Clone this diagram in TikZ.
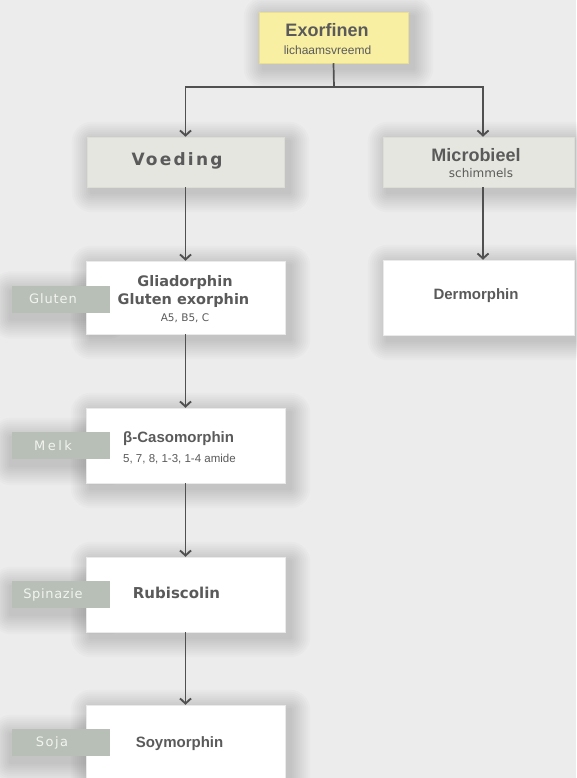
\documentclass[tikz,border=0pt]{standalone}
\usepackage{fontspec}
\setmainfont{Liberation Sans}
\newfontfamily\dvs{DejaVu Sans}
\usetikzlibrary{arrows.meta}
\definecolor{bgcol}{HTML}{ECECEC}
\definecolor{txt}{HTML}{5A5A5A}
\definecolor{hdrfill}{HTML}{E4E6DF}
\definecolor{hdredge}{HTML}{DCDED6}
\definecolor{yelfill}{HTML}{F8EFA2}
\definecolor{yeledge}{HTML}{EADF90}
\definecolor{tagfill}{HTML}{B8BFB6}
\definecolor{tagtxt}{HTML}{F2F4F0}
\definecolor{linecol}{HTML}{505050}
\definecolor{cardedge}{HTML}{EAEAEA}
\pgfdeclarelayer{bg}
\pgfsetlayers{bg,main}
\newcommand\mkshadow[3]{% node, dx, dy (pt, dy positive = down)
  \begin{pgfonlayer}{bg}
  \foreach \r in {20,18,...,2}{
    \fill[black, opacity=0.017, rounded corners=\r pt]
      ([xshift=#2pt-\r pt, yshift=-#3pt+\r pt]#1.north west) rectangle
      ([xshift=#2pt+\r pt, yshift=-#3pt-\r pt]#1.south east);
  }
  \end{pgfonlayer}}
\begin{document}
\begin{tikzpicture}[x=1pt,y=-1pt,
  card/.style={rectangle, inner sep=0pt, fill=white, draw=cardedge, line width=0.5pt},
  hdr/.style={card, fill=hdrfill, draw=hdredge},
  tagbox/.style={rectangle, inner sep=0pt, fill=tagfill, minimum width=98pt, minimum height=27pt},
  tagtext/.style={inner sep=0pt, text=tagtxt, font=\dvs\fontsize{13}{15}\selectfont},
  lbl/.style={inner sep=0pt, text=txt},
  conn/.style={draw=linecol, line width=1.7pt},
  arr/.style={conn, -{Straight Barb[length=5pt,width=11pt,line width=1.9pt]}}
]
\useasboundingbox (0,0) rectangle (576,778);
\begin{pgfonlayer}{bg}
\fill[bgcol] (0,0) rectangle (576,778);
\end{pgfonlayer}

% boxes
\node[card, fill=yelfill, draw=yeledge, minimum width=149pt, minimum height=51pt] (exo) at (333.5,37.5) {};
\node[hdr, minimum width=197pt, minimum height=50pt] (voe) at (185.5,162) {};
\node[hdr, minimum width=191pt, minimum height=50pt] (mic) at (478.5,162) {};
\node[card, minimum width=199pt, minimum height=73pt] (glu) at (185.5,297.5) {};
\node[card, minimum width=199pt, minimum height=75pt] (mel) at (185.5,445.5) {};
\node[card, minimum width=199pt, minimum height=75pt] (rub) at (185.5,594.5) {};
\node[card, minimum width=199pt, minimum height=75pt] (soy) at (185.5,742.5) {};
\node[card, minimum width=191pt, minimum height=75pt] (der) at (478.5,297.5) {};
\foreach \b in {exo,voe,mic,glu,mel,rub,soy,der}{\mkshadow{\b}{5}{5}}

% tags
\node[tagbox] (tglu) at (61,299) {};
\node[tagbox] (tmel) at (61,445.5) {};
\node[tagbox] (trub) at (61,594.5) {};
\node[tagbox] (tsoy) at (61,742.5) {};
\begin{scope}
\clip (0,0) rectangle (87,778);
\foreach \b in {tglu,tmel,trub,tsoy}{\mkshadow{\b}{-1}{6}}
\end{scope}
\node[tagtext] (xglu) at (53,299) {\addfontfeature{LetterSpace=7}Gluten};
\node[tagtext] (xmel) at (53,445.5) {\addfontfeature{LetterSpace=19}Melk};
\node[tagtext] (xrub) at (53,594.5) {\addfontfeature{LetterSpace=5}Spinazie};
\node[tagtext] (xsoy) at (52,742.5) {\addfontfeature{LetterSpace=11}Soja};

% texts
\node[lbl, font=\fontsize{18}{20}\selectfont\bfseries] (lexo) at (327,30) {Exorfinen};
\node[lbl, font=\fontsize{12}{14}\selectfont] (lexo2) at (327.5,50) {lichaamsvreemd};
\node[lbl, font=\dvs\fontsize{17}{20}\selectfont\bfseries\addfontfeature{LetterSpace=13}] (lvoe) at (177,161) {Voeding};
\node[lbl, font=\fontsize{18}{20}\selectfont\bfseries] (lmic) at (476,155) {Microbieel};
\node[lbl, font=\dvs\fontsize{12}{14}\selectfont] (lmic2) at (481,173) {schimmels};
\node[lbl, font=\dvs\fontsize{14.5}{17}\selectfont\bfseries] (lglu1) at (185,282) {Gliadorphin};
\node[lbl, font=\dvs\fontsize{14.5}{17}\selectfont\bfseries] (lglu2) at (183.5,300) {Gluten exorphin};
\node[lbl, font=\dvs\fontsize{10.5}{12}\selectfont] (lglu3) at (185,318) {A5, B5, C};
\node[lbl, anchor=west, font=\fontsize{15}{17}\selectfont\bfseries] (lmel1) at (123,439) {β-Casomorphin};
\node[lbl, anchor=west, font=\fontsize{11.5}{13}\selectfont] (lmel2) at (123,459) {5, 7, 8, 1-3, 1-4 amide};
\node[lbl, font=\dvs\fontsize{15}{17}\selectfont\bfseries] (lrub) at (176.5,593) {Rubiscolin};
\node[lbl, font=\fontsize{15}{17}\selectfont\bfseries] (lsoy) at (179.5,744) {Soymorphin};
\node[lbl, font=\fontsize{15}{17}\selectfont\bfseries] (lder) at (476,296) {Dermorphin};

% connectors
\coordinate (jn) at (334,87);
\coordinate (jl) at (185.5,87);
\coordinate (jr) at (483,87);
\draw[conn] (exo.south) -- (jn);
\draw[conn, line cap=rect] (jl) -- (jr);
\draw[arr] (jl) -- (voe.north);
\draw[arr] (jr) -- (jr |- mic.north);
\draw[arr] (voe.south) -- (glu.north);
\draw[arr] (glu.south) -- (mel.north);
\draw[arr] (mel.south) -- (rub.north);
\draw[arr] (rub.south) -- (soy.north);
\draw[arr] (jr |- mic.south) -- (jr |- der.north);
\end{tikzpicture}
\end{document}
